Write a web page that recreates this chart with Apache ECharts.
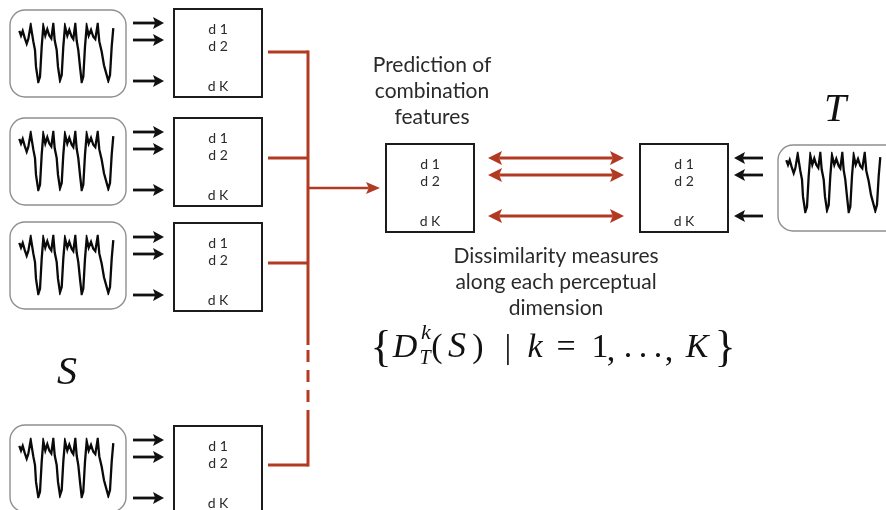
<!DOCTYPE html>
<html><head><meta charset="utf-8">
<script src="https://cdn.jsdelivr.net/npm/echarts@6/dist/echarts.min.js"></script>
<style>html,body{margin:0;padding:0;background:#fff}#c{width:886px;height:510px}</style>
</head><body><div id="c"></div>
<script>
// ---------- content ----------
const featureLabels = ['d 1', 'd 2', 'd K'];
const predictionLines = ['Prediction of', 'combination', 'features'];
const dissimilarityLines = ['Dissimilarity measures', 'along each perceptual', 'dimension'];
const sourceSymbol = 'S';
const targetSymbol = 'T';
// one recorded trace: [position along trace (px), normalised level 0=top .. 1=bottom]
const waveTrace = [
  [0.3,0.12],[2,0.20],[3.7,0.12],[5.7,0.24],[7.7,0.34],[9.3,0.26],[11.7,0.02],[13,0.0],[14.3,0.30],[16,0.45],
  [17,0.74],[19.3,1.0],[21,0.91],[22.7,0.39],[24.3,0.04],[26.3,0.20],[28.3,0.09],[30.3,0.20],[32.3,0.25],
  [34.3,0.0],[35.7,0.28],[37.7,0.45],[39,0.74],[41,0.97],[42.7,0.88],[44.3,0.39],[46,0.04],[48.3,0.20],
  [50.3,0.10],[52.7,0.22],[54.3,0.26],[56.3,0.0],[57.7,0.29],[59.3,0.45],[61,0.74],[62.7,1.0],[64.3,0.91],
  [66,0.39],[67.7,0.04],[69.7,0.20],[72,0.10],[74.3,0.22],[76.3,0.26],[78.7,0.0],[80.3,0.30],[82.7,0.48],
  [85,0.71],[89.3,0.98],[91,0.88],[92.7,0.39],[94.3,0.07]
];

// ---------- layout (pixel-unit diagram axes) ----------
const W = 886, H = 510;
const RED = '#b23a22', INK = '#1c1c1c', TEXT = '#2a2a2a', FRAME = '#8f8f8f';
const SANS = 'Lato, "Open Sans", sans-serif';
const SERIF = '"Liberation Serif", "DejaVu Serif", serif';

const featureSize = [88, 88];
const leftFeatureX = 174;
const leftFeatureTops = [9, 118, 223, 426];
const centerBox = [386, 144];
const rightBox = [640, 144];
const labelOffsets = [20, 37.5, 77];
const arrowOffsets = [14, 31, 72];
const leftWaveTops = [10, 118, 222, 425];
const leftWaveBoxes = leftWaveTops.map(t => [10, t, 116, 87]);
const rightWaveBox = [778, 145, 130, 86];
const waveGrids = leftWaveTops.map(t => [19, t + 14, 94, 58]).concat([[786, 153, 94, 59]]);
const connectorYs = [52, 158, 263, 465];
const connectorX = [268, 308];
const spineSegments = [[50.5, 345], [350, 362], [370, 382], [390, 402], [410, 466.5]];

const featureBoxes = leftFeatureTops.map(t => [leftFeatureX, t]).concat([centerBox, rightBox]);
const blackArrows = [];
leftFeatureTops.forEach(t => arrowOffsets.forEach(o => blackArrows.push([133, t + o, 164, t + o])));
arrowOffsets.forEach(o => blackArrows.push([763, rightBox[1] + o, 734, rightBox[1] + o]));
const doubleArrows = arrowOffsets.map(o => [488, centerBox[1] + o, 624, centerBox[1] + o]);
const redArrow = [[308, 188, 380, 188]];
const redLines = connectorYs.map(y => [connectorX[0], y, connectorX[1], y])
  .concat(spineSegments.map(s => [connectorX[1], s[0], connectorX[1], s[1]]));

const texts = [];
predictionLines.forEach((t, i) => texts.push({x: 432, y: 65 + i * 26, text: t, font: '21px ' + SANS, fill: TEXT}));
dissimilarityLines.forEach((t, i) => texts.push({x: 556, y: 256 + i * 26, text: t, font: '21px ' + SANS, fill: TEXT}));
texts.push({x: 67, y: 373, text: sourceSymbol, font: 'italic 40px ' + SERIF, fill: '#111'});
texts.push({x: 835, y: 110, text: targetSymbol, font: 'italic 40px ' + SERIF, fill: '#111'});
// formula { D^k_T(S) | k = 1, . . . , K }
const F = 'px ' + SERIF;
[
  [381, 349, '{', '44' + F, false], [405, 348, 'D', '34' + F, true], [426, 333, 'k', '22' + F, true],
  [425, 359, 'T', '20' + F, true], [437, 348, '(', '34' + F, false], [457, 348, 'S', '36' + F, true],
  [478, 348, ')', '34' + F, false], [508, 349, '|', '34' + F, false], [535, 348, 'k', '34' + F, true],
  [566, 348, '=', '34' + F, false], [600, 348, '1', '34' + F, false], [611, 352, ',', '34' + F, false],
  [628, 348, '.', '34' + F, false], [643, 348, '.', '34' + F, false], [658, 348, '.', '34' + F, false],
  [669, 352, ',', '34' + F, false], [697, 348, 'K', '34' + F, true], [725, 349, '}', '44' + F, false]
].forEach(p => texts.push({x: p[0], y: p[1], text: p[2], font: (p[4] ? 'italic ' : '') + p[3], fill: '#111'}));

// ---------- helpers ----------
function arrowGroup(api, color, width, headLen, headHalf, both) {
  const a = api.coord([api.value(0), api.value(1)]);
  const b = api.coord([api.value(2), api.value(3)]);
  const dx = b[0] - a[0], dy = b[1] - a[1], L = Math.hypot(dx, dy);
  const ux = dx / L, uy = dy / L, nx = -uy, ny = ux;
  const head = (tip, s) => [
    [tip[0], tip[1]],
    [tip[0] - s * ux * headLen + nx * headHalf, tip[1] - s * uy * headLen + ny * headHalf],
    [tip[0] - s * ux * headLen * 0.8, tip[1] - s * uy * headLen * 0.8],
    [tip[0] - s * ux * headLen - nx * headHalf, tip[1] - s * uy * headLen - ny * headHalf]
  ];
  const start = both ? [a[0] + ux * headLen * 0.8, a[1] + uy * headLen * 0.8] : a;
  const end = [b[0] - ux * headLen * 0.8, b[1] - uy * headLen * 0.8];
  const children = [
    {type: 'line', shape: {x1: start[0], y1: start[1], x2: end[0], y2: end[1]}, style: {stroke: color, lineWidth: width}},
    {type: 'polygon', shape: {points: head(b, 1)}, style: {fill: color}}
  ];
  if (both) children.push({type: 'polygon', shape: {points: head(a, -1)}, style: {fill: color}});
  return {type: 'group', children};
}

const grids = [{left: 0, top: 0, width: W, height: H}].concat(
  waveGrids.map(g => ({left: g[0], top: g[1], width: g[2], height: g[3]})));
const xAxes = [{type: 'value', min: 0, max: W, show: false, gridIndex: 0}].concat(
  waveGrids.map((g, i) => ({type: 'value', min: 0, max: 94, show: false, gridIndex: i + 1})));
const yAxes = [{type: 'value', min: 0, max: H, inverse: true, show: false, gridIndex: 0}].concat(
  waveGrids.map((g, i) => ({type: 'value', min: 0, max: 1, inverse: true, show: false, gridIndex: i + 1})));

const series = [
  { // rounded frames around the recorded traces
    type: 'custom', xAxisIndex: 0, yAxisIndex: 0, z: 1,
    data: leftWaveBoxes.concat([rightWaveBox]),
    renderItem: (params, api) => {
      const p0 = api.coord([api.value(0), api.value(1)]);
      const p1 = api.coord([api.value(0) + api.value(2), api.value(1) + api.value(3)]);
      return {type: 'rect', shape: {x: p0[0], y: p0[1], width: p1[0] - p0[0], height: p1[1] - p0[1], r: 15},
        style: {fill: '#fff', stroke: FRAME, lineWidth: 1.4}};
    }
  },
  { // feature boxes
    type: 'custom', xAxisIndex: 0, yAxisIndex: 0, z: 1,
    data: featureBoxes,
    renderItem: (params, api) => {
      const x = api.value(0), y = api.value(1);
      const p0 = api.coord([x, y]), p1 = api.coord([x + featureSize[0], y + featureSize[1]]);
      const children = [{type: 'rect', shape: {x: p0[0], y: p0[1], width: p1[0] - p0[0], height: p1[1] - p0[1]},
        style: {fill: '#fff', stroke: INK, lineWidth: 2}}];
      featureLabels.forEach((lab, k) => {
        const pt = api.coord([x + featureSize[0] / 2, y + labelOffsets[k]]);
        children.push({type: 'text', style: {text: lab, x: pt[0], y: pt[1], align: 'center', verticalAlign: 'middle',
          textAlign: 'center', textVerticalAlign: 'middle', font: '14px ' + SANS, fill: TEXT}});
      });
      return {type: 'group', children};
    }
  },
  { // red connector lines
    type: 'custom', xAxisIndex: 0, yAxisIndex: 0, z: 2,
    data: redLines,
    renderItem: (params, api) => {
      const a = api.coord([api.value(0), api.value(1)]), b = api.coord([api.value(2), api.value(3)]);
      return {type: 'line', shape: {x1: a[0], y1: a[1], x2: b[0], y2: b[1]}, style: {stroke: RED, lineWidth: 3}};
    }
  },
  {type: 'custom', xAxisIndex: 0, yAxisIndex: 0, z: 3, data: redArrow,
    renderItem: (p, api) => arrowGroup(api, RED, 2.6, 14, 6, false)},
  {type: 'custom', xAxisIndex: 0, yAxisIndex: 0, z: 3, data: doubleArrows,
    renderItem: (p, api) => arrowGroup(api, RED, 2.8, 14, 7, true)},
  {type: 'custom', xAxisIndex: 0, yAxisIndex: 0, z: 3, data: blackArrows,
    renderItem: (p, api) => arrowGroup(api, '#111', 2.8, 11, 6, false)},
  { // texts
    type: 'custom', xAxisIndex: 0, yAxisIndex: 0, z: 4,
    data: texts.map(t => [t.x, t.y]),
    renderItem: (params, api) => {
      const t = texts[params.dataIndex];
      const pt = api.coord([api.value(0), api.value(1)]);
      return {type: 'text', style: {text: t.text, x: pt[0], y: pt[1], align: 'center', verticalAlign: 'middle',
        textAlign: 'center', textVerticalAlign: 'middle', font: t.font, fill: t.fill}};
    }
  }
].concat(waveGrids.map((g, i) => ({
  type: 'line', xAxisIndex: i + 1, yAxisIndex: i + 1, z: 5,
  data: waveTrace, showSymbol: false, symbol: 'none', smooth: false,
  lineStyle: {color: '#0a0a0a', width: 2.3, join: 'miter'}
})));

const chart = echarts.init(document.getElementById('c'));
chart.setOption({animation: false, backgroundColor: '#fff', grid: grids, xAxis: xAxes, yAxis: yAxes, series});
</script></body></html>
